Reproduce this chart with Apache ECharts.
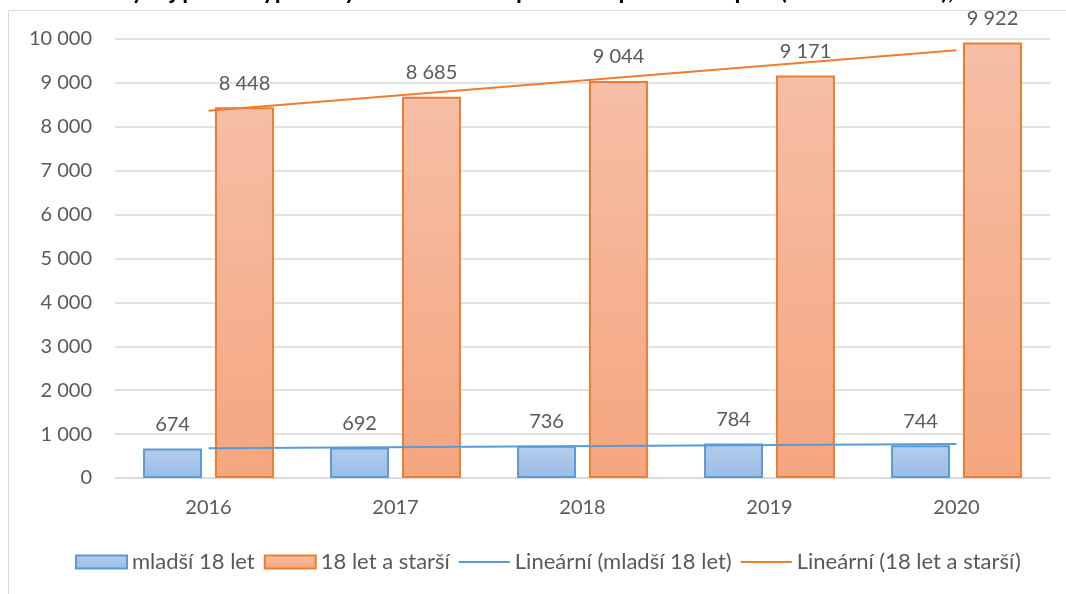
<!DOCTYPE html>
<html>
<head>
<meta charset="utf-8">
<script src="https://cdn.jsdelivr.net/npm/echarts@6/dist/echarts.min.js"></script>
<style>
    html, body { margin: 0; padding: 0; background: #fff; }
    #chart { width: 1066px; height: 594px; }
</style>
</head>
<body>
<div id="chart"></div>
<script>
    // hodnoty
    var years = ['2016', '2017', '2018', '2019', '2020'];
    var younger = [674, 692, 736, 784, 744];
    var older = [8448, 8685, 9044, 9171, 9922];
    // koncové body lineárních trendů
    var trendYounger = [680, null, null, null, 772];
    var trendOlder = [8367, null, null, null, 9741];
    var yTicks = [0, 10000, 1000];

    var FONT = 'Lato';
    var GREY = '#595959';

    function fmt(v) {
        return String(v).replace(/\B(?=(\d{3})+(?!\d))/g, ' ');
    }

    var chart = echarts.init(document.getElementById('chart'));
    chart.setOption({
        animation: false,
        textStyle: { fontFamily: FONT },
        title: {
            text: 'Graf č. 22: Vývoj počtu vyplácených dávek u Příspěvku na péči III. stupně (těžká závislost), ČR v letech 2016–2020',
            left: 0,
            top: -21,
            padding: 0,
            textStyle: { fontFamily: FONT, fontSize: 24, fontWeight: 'bold', color: '#000' }
        },
        graphic: [{
            type: 'rect',
            shape: { x: 8.5, y: 10.5, width: 1200, height: 700 },
            style: { fill: 'none', stroke: '#d9d9d9', lineWidth: 1 },
            silent: true
        }],
        grid: { left: 115, right: 16, top: 39, bottom: 116 },
        legend: {
            bottom: 16,
            left: 70,
            itemWidth: 51,
            itemHeight: 13,
            itemGap: 9,
            textStyle: { fontFamily: FONT, fontSize: 22, color: GREY },
            data: [
                { name: 'mladší 18 let', icon: 'rect' },
                { name: '18 let a starší', icon: 'rect' },
                { name: 'Lineární (mladší 18 let)', icon: 'path://M0,0 L51,0 L51,2 L0,2 Z', itemStyle: { color: '#5b9bd5' } },
                { name: 'Lineární (18 let a starší)', icon: 'path://M0,0 L51,0 L51,2 L0,2 Z', itemStyle: { color: '#ed7d31' } }
            ]
        },
        xAxis: {
            type: 'category',
            data: years,
            axisLine: { lineStyle: { color: '#d9d9d9', width: 1.5 } },
            axisTick: { show: false },
            axisLabel: { margin: 20, fontSize: 20, color: GREY, fontFamily: FONT }
        },
        yAxis: {
            type: 'value',
            min: yTicks[0],
            max: yTicks[1],
            interval: yTicks[2],
            axisLine: { show: false },
            axisTick: { show: false },
            splitLine: { lineStyle: { color: '#d9d9d9', width: 1.5 } },
            axisLabel: { margin: 23, fontSize: 20, color: GREY, fontFamily: FONT, formatter: fmt }
        },
        series: [
            {
                name: 'mladší 18 let',
                type: 'bar',
                data: younger,
                barGap: '22%',
                barCategoryGap: '30%',
                itemStyle: {
                    color: new echarts.graphic.LinearGradient(0, 0, 0, 1, [
                        { offset: 0, color: '#b4cdeb' },
                        { offset: 1, color: '#9bbce6' }
                    ]),
                    borderColor: '#5b9bd5',
                    borderWidth: 2
                },
                label: {
                    show: true, position: 'top', distance: 14,
                    fontSize: 20, color: GREY, fontFamily: FONT,
                    formatter: function (p) { return fmt(p.value); }
                }
            },
            {
                name: '18 let a starší',
                type: 'bar',
                data: older,
                itemStyle: {
                    color: new echarts.graphic.LinearGradient(0, 0, 0, 1, [
                        { offset: 0, color: '#f6bea6' },
                        { offset: 1, color: '#f5a67f' }
                    ]),
                    borderColor: '#ed7d31',
                    borderWidth: 2
                },
                label: {
                    show: true, position: 'top', distance: 14,
                    fontSize: 20, color: GREY, fontFamily: FONT,
                    formatter: function (p) { return fmt(p.value); }
                }
            },
            {
                name: 'Lineární (mladší 18 let)',
                type: 'line',
                data: trendYounger,
                connectNulls: true,
                symbol: 'none',
                z: 5,
                lineStyle: { color: '#5b9bd5', width: 2 },
                itemStyle: { color: '#5b9bd5' }
            },
            {
                name: 'Lineární (18 let a starší)',
                type: 'line',
                data: trendOlder,
                connectNulls: true,
                symbol: 'none',
                z: 5,
                lineStyle: { color: '#ed7d31', width: 2 },
                itemStyle: { color: '#ed7d31' }
            }
        ]
    });
</script>
</body>
</html>
